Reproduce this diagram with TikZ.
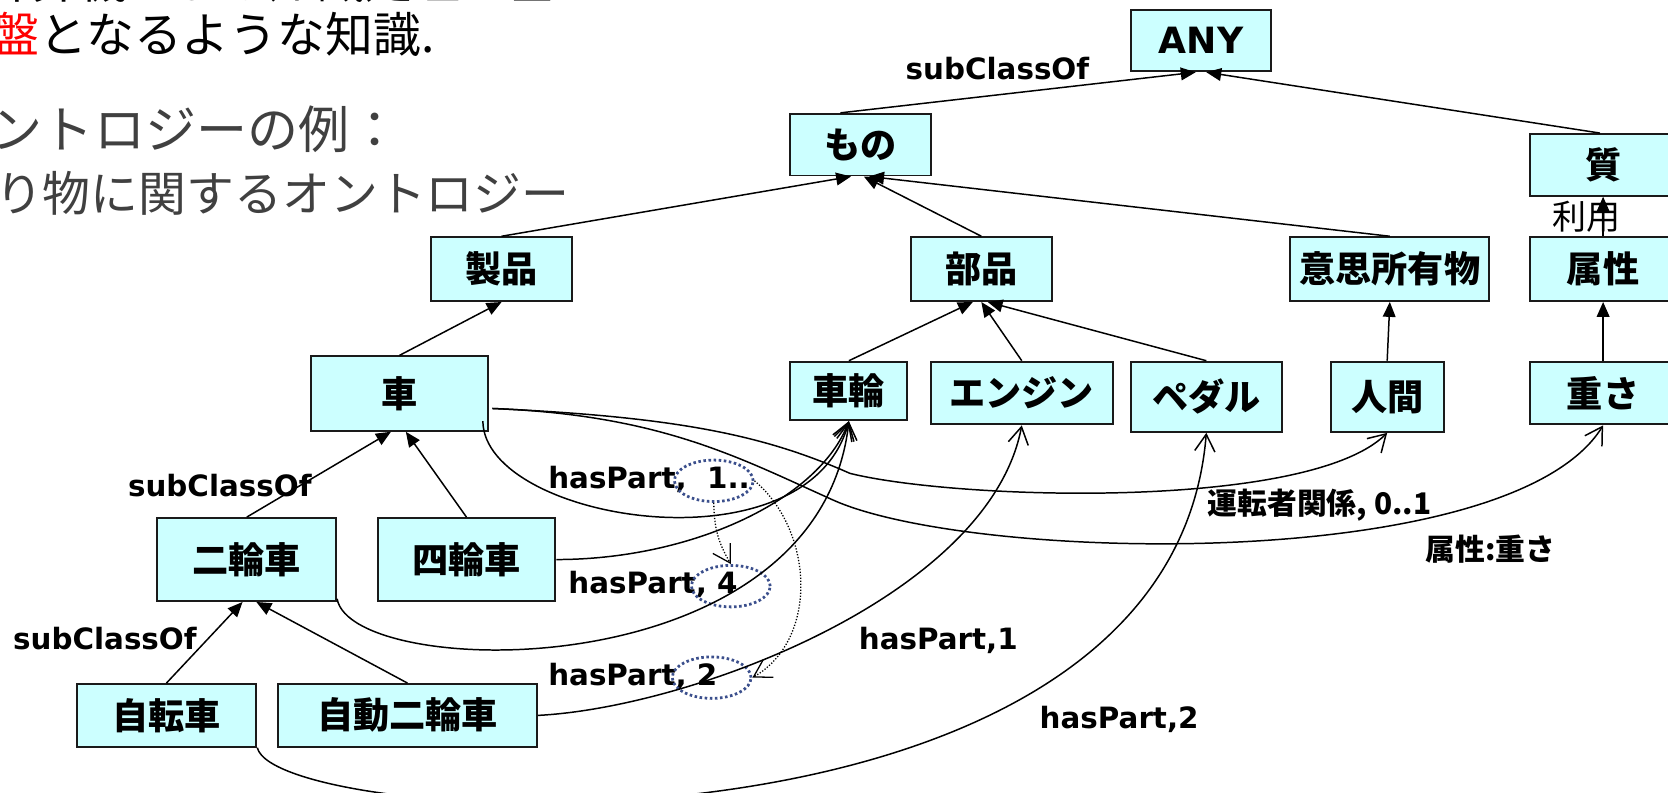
\documentclass[tikz,border=0pt]{standalone}
\usepackage{fontspec}
\setmainfont{DejaVu Sans}
\newfontfamily\jp{Noto Sans CJK JP}
\usetikzlibrary{arrows.meta,calc,shapes.geometric}
\definecolor{celeste}{HTML}{CCFFFF}
\definecolor{borde}{HTML}{1A1A1A}
\definecolor{punteado}{HTML}{3B4F8C}
\definecolor{texto}{HTML}{404040}
\definecolor{rojo}{HTML}{FF0000}

\begin{document}
\begin{tikzpicture}[
  x=0.5pt, y=0.5pt,
  clase/.style={draw=borde, fill=celeste, line width=0.9pt, inner sep=0pt, align=center, font=\jp\bfseries\fontsize{17}{20}\selectfont},
  etq/.style={anchor=base west, inner sep=0pt, font=\bfseries\fontsize{13.8}{16}\selectfont},
  etqjp/.style={etq, font=\jp\bfseries\fontsize{14}{16}\selectfont},
  diapo/.style={anchor=base west, inner sep=0pt, font=\jp\fontsize{22.5}{26}\selectfont},
  esun/.style={-{Triangle[length=7pt,width=6pt]}, line width=0.7pt},
  tiene/.style={-{Straight Barb[length=8pt,width=9.5pt]}, line width=0.7pt},
  anillo/.style={ellipse, draw=punteado, dash pattern={on 1.2pt off 1.2pt}, line width=1.3pt, inner sep=0pt, minimum width=37pt, minimum height=19.5pt},
  enlace/.style={-{Straight Barb[length=8pt,width=9.5pt]}, dash pattern={on 0.6pt off 0.8pt}, line width=0.6pt}
]
\useasboundingbox (0,0) rectangle (1568,745);

\node[diapo] (linea1) at (-16,746) {計算機による知識処理の基};
\node[diapo] (linea2) at (-8,696) {\textcolor{rojo}{盤}となるような知識.};
\node[diapo, text=texto, font=\jp\fontsize{24}{28}\selectfont] (linea3) at (-8,605) {ントロジーの例：};
\node[diapo, text=texto] (linea4) at (-5,546) {り物に関するオントロジー};

\node[clase, minimum width=66pt, minimum height=29pt, font=\bfseries\fontsize{17}{20}\selectfont] (any) at (1129,707) {ANY};
\node[clase, minimum width=66pt, minimum height=29pt] (cosa) at (809,609) {もの};
\node[clase, minimum width=69pt, minimum height=29pt] (cualidad) at (1507,590) {質};
\node[clase, minimum width=66.5pt, minimum height=30pt] (producto) at (471.5,492) {製品};
\node[clase, minimum width=66.5pt, minimum height=30pt] (pieza) at (922.5,492) {部品};
\node[clase, minimum width=93.5pt, minimum height=30pt] (intencion) at (1306.5,492) {意思所有物};
\node[clase, minimum width=69pt, minimum height=30pt] (atributo) at (1507,492) {属性};
\node[clase, minimum width=83.5pt, minimum height=35pt] (coche) at (375.5,375) {車};
\node[clase, minimum width=55pt, minimum height=27.5pt] (rueda) at (798,377.5) {車輪};
\node[clase, minimum width=85.5pt, minimum height=29.5pt] (motor) at (960.5,375.5) {エンジン};
\node[clase, minimum width=71pt, minimum height=33pt] (pedal) at (1134,372) {ペダル};
\node[clase, minimum width=53pt, minimum height=33pt] (humano) at (1304,372) {人間};
\node[clase, minimum width=69pt, minimum height=29.5pt] (peso) at (1507,375.5) {重さ};
\node[clase, minimum width=84pt, minimum height=39pt] (dosruedas) at (232,219) {二輪車};
\node[clase, minimum width=83.5pt, minimum height=39pt] (cuatroruedas) at (438.5,219) {四輪車};
\node[clase, minimum width=84.5pt, minimum height=29.5pt] (bici) at (156.5,72.5) {自転車};
\node[clase, minimum width=122pt, minimum height=29.5pt] (moto) at (383,72.5) {自動二輪車};

\draw[esun] ($(cosa.north)+(-19,0)$) -- ($(any.south)+(-5,0)$);
\draw[esun] ($(cualidad.north)+(-3,0)$) -- ($(any.south)+(5,0)$);
\draw[esun] (producto.north) -- ($(cosa.south)+(-9,0)$);
\draw[esun] (pieza.north) -- ($(cosa.south)+(3,0)$);
\draw[esun] (intencion.north) -- ($(cosa.south)+(8,0)$);
\draw[esun] (coche.north) -- (producto.south);
\draw[esun] (rueda.north) -- ($(pieza.south)+(-8,0)$);
\draw[esun] (motor.north) -- (pieza.south);
\draw[esun] (pedal.north) -- ($(pieza.south)+(6,0)$);
\draw[esun] (humano.north) -- (intencion.south);
\draw[esun] (peso.north) -- (atributo.south);
\draw[esun] (atributo.north) -- node[xshift=-8pt, inner sep=0pt, font=\jp\fontsize{16}{18}\selectfont] (uso) {利用} (cualidad.south);
\draw[esun] (dosruedas.north) -- ($(coche.south)+(-8,0)$);
\draw[esun] (cuatroruedas.north) -- ($(coche.south)+(6,0)$);
\draw[esun] (bici.north) -- ($(dosruedas.south)+(-4,0)$);
\draw[esun] (moto.north) -- ($(dosruedas.south)+(9,0)$);

\node[etq] (sub1) at (851,670) {subClassOf};
\node[etq] (sub2) at (120,278) {subClassOf};
\node[etq] (sub3) at (12,134) {subClassOf};
\node[etq] (lab1) at (515,286) {hasPart,\ \ 1..};
\node[etq] (lab4) at (534,187.5) {hasPart, 4};
\node[etq] (lab2) at (515,101) {hasPart, 2};
\node[etq] (labm) at (807,134) {hasPart,1};
\node[etq] (labp) at (977,60) {hasPart,2};
\node[etqjp] (labc) at (1135,261) {運転者関係, 0..1};
\node[etqjp] (labw) at (1340,218) {属性:重さ};

\node[anillo] (anillo1) at (671,293) {};
\node[anillo] (anillo4) at (687,194) {};
\node[anillo] (anillo2) at (669,108) {};

\draw[tiene] ($(coche.south east)+(-6,10)$) .. controls (455,255) and (760,205) .. (rueda.south);
\draw[tiene] (cuatroruedas.east) .. controls (650,219) and (770,275) .. (rueda.south);
\draw[tiene] ($(dosruedas.south east)+(0,3)$) .. controls (330,105) and (770,95) .. (rueda.south);
\draw[tiene] ($(coche.east)+(3,-14)$) .. controls (640,353) and (720,335) .. (799,300) .. controls (900,275) and (1230,265) .. (humano.south);
\draw[tiene] ($(coche.east)+(3,-14)$) .. controls (620,355) and (693,315.5) .. (783,275) .. controls (913,216.5) and (1420,205) .. (peso.south);
\draw[tiene] (moto.east) .. controls (650,80) and (930,185) .. (motor.south);
\draw[tiene] (bici.south east) .. controls (260,-35) and (1100,-85) .. (pedal.south);

\draw[enlace] (anillo1.south) to[bend right=15] (anillo4.north);
\draw[enlace] (anillo1.east) to[out=-40, in=30] (anillo2.east);
\end{tikzpicture}
\end{document}
